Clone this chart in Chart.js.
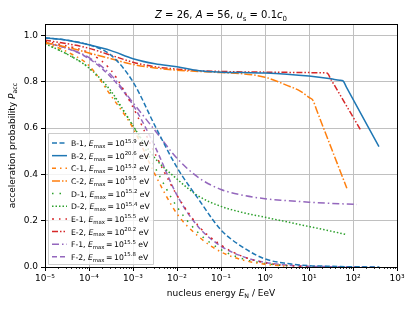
<!DOCTYPE html>
<html>
<head>
<meta charset="utf-8">
<script src="https://cdn.jsdelivr.net/npm/chart.js@4.4.0/dist/chart.umd.min.js"></script>
<style>
  html, body { margin: 0; padding: 0; background: #fff; }
</style>
</head>
<body>
<canvas id="chart" width="415" height="311"></canvas>
<script>
// series names and E_max exponents (eV) as shown in the legend
const seriesNames = ['B-1', 'B-2', 'C-1', 'C-2', 'D-1', 'D-2', 'E-1', 'E-2', 'F-1', 'F-2'];
const emaxExp = ['15.9', '20.6', '15.2', '19.5', '15.2', '15.4', '15.5', '20.2', '15.5', '15.8'];
const seriesColors = ['#1f77b4', '#1f77b4', '#ff7f0e', '#ff7f0e', '#2ca02c', '#2ca02c', '#d62728', '#d62728', '#9467bd', '#9467bd'];

// log10 of nucleus energy in EeV, and acceleration probability
const logE_B1 = [-5, -4.5, -4, -3.5, -3, -2.5, -2, -1.5, -1, -0.5, 0, 0.5, 1, 1.5, 2, 2.6];
const prob_B1 = [0.99, 0.98, 0.96, 0.915, 0.80, 0.61, 0.43, 0.29, 0.16, 0.085, 0.035, 0.015, 0.006, 0.003, 0.001, 0.0];

const logE_B2 = [-5, -4.5, -4, -3.5, -3, -2.5, -2, -1.5, -1, -0.5, 0, 0.5, 1, 1.5, 1.7, 1.77, 1.85, 2.59];
const prob_B2 = [0.99, 0.98, 0.96, 0.935, 0.90, 0.878, 0.865, 0.848, 0.842, 0.84, 0.838, 0.833, 0.825, 0.813, 0.807, 0.805, 0.777, 0.52];

const logE_C1 = [-5, -4.5, -4, -3.5, -3, -2.5, -2, -1.5, -1, -0.5, 0, 0.45];
const prob_C1 = [0.97, 0.93, 0.87, 0.74, 0.60, 0.40, 0.23, 0.13, 0.065, 0.03, 0.012, 0.004];

const logE_C2 = [-5, -4.5, -4, -3.5, -3, -2.5, -2, -1.5, -1, -0.5, 0, 0.5, 0.8, 1.0, 1.09, 1.18, 1.86];
const prob_C2 = [0.97, 0.95, 0.925, 0.90, 0.875, 0.86, 0.85, 0.845, 0.84, 0.835, 0.82, 0.785, 0.76, 0.733, 0.72, 0.675, 0.34];

const logE_D1 = [-5, -4.5, -4, -3.5, -3, -2.5, -2, -1.5, -1, -0.5, 0, 0.5];
const prob_D1 = [0.965, 0.92, 0.86, 0.75, 0.61, 0.43, 0.26, 0.145, 0.075, 0.035, 0.015, 0.005];

const logE_D2 = [-5, -4.5, -4, -3.5, -3, -2.5, -2, -1.5, -1, -0.5, 0, 0.5, 1, 1.5, 1.86];
const prob_D2 = [0.965, 0.92, 0.86, 0.76, 0.61, 0.47, 0.38, 0.305, 0.262, 0.235, 0.215, 0.195, 0.175, 0.155, 0.14];

const logE_E1 = [-5, -4.5, -4, -3.5, -3, -2.5, -2, -1.5, -1, -0.5, 0, 0.5, 1, 1.5];
const prob_E1 = [0.975, 0.955, 0.925, 0.85, 0.69, 0.49, 0.31, 0.175, 0.095, 0.045, 0.018, 0.006, 0.002, 0.0];

const logE_E2 = [-5, -4.5, -4, -3.5, -3, -2.5, -2, -1.5, -1, -0.5, 0, 0.5, 1, 1.35, 1.41, 1.5, 2.18];
const prob_E2 = [0.98, 0.965, 0.945, 0.915, 0.885, 0.865, 0.855, 0.848, 0.845, 0.843, 0.842, 0.841, 0.84, 0.839, 0.838, 0.81, 0.59];

const logE_F1 = [-5, -4.5, -4, -3.5, -3, -2.5, -2, -1.5, -1, -0.5, 0, 0.5, 1, 1.5, 2.09];
const prob_F1 = [0.97, 0.945, 0.905, 0.83, 0.71, 0.59, 0.47, 0.385, 0.335, 0.31, 0.295, 0.287, 0.28, 0.275, 0.27];

const logE_F2 = [-5, -4.5, -4, -3.5, -3, -2.5, -2, -1.5, -1, -0.5, 0, 0.5, 1, 2, 2.5];
const prob_F2 = [0.97, 0.945, 0.90, 0.82, 0.70, 0.52, 0.31, 0.17, 0.09, 0.045, 0.02, 0.008, 0.003, 0.001, 0.0];

// axis ticks
const xTickExps = [-5, -4, -3, -2, -1, 0, 1, 2, 3];
const yTicks = [0.0, 0.2, 0.4, 0.6, 0.8, 1.0];

const allLogE = [logE_B1, logE_B2, logE_C1, logE_C2, logE_D1, logE_D2, logE_E1, logE_E2, logE_F1, logE_F2];
const allProb = [prob_B1, prob_B2, prob_C1, prob_C2, prob_D1, prob_D2, prob_E1, prob_E2, prob_F1, prob_F2];

// line styles (dash patterns) per series
const dashes = [
  [5, 2.5],            // B-1 dashed
  [],                  // B-2 solid
  [4, 4, 1.5, 4],      // C-1 loose dash-dot
  [8, 2, 1.5, 2],      // C-2 dash-dot
  [1.5, 6],            // D-1 loose dots
  [1.5, 2],            // D-2 dots
  [2, 5, 1.5, 5],      // E-1 loose dots/dashes
  [6, 2, 1.5, 2, 1.5, 2], // E-2 dash-dot-dot
  [7, 3, 1.5, 3],      // F-1
  [5, 3]               // F-2 dashed
];

const FONT = '"DejaVu Sans", sans-serif';
const SUP = { '-': '⁻', '0': '⁰', '1': '¹', '2': '²', '3': '³', '4': '⁴', '5': '⁵', '6': '⁶', '7': '⁷', '8': '⁸', '9': '⁹' };

// draw text made of pieces (italic, subscript, superscript)
function drawRich(ctx, parts, x, y, size, align) {
  let total = 0;
  const widths = parts.map(p => {
    const s = size * (p.s || 1);
    ctx.font = (p.it ? 'italic ' : '') + s + 'px ' + FONT;
    const w = ctx.measureText(p.t).width;
    total += w;
    return w;
  });
  let cx = x;
  if (align === 'center') cx = x - total / 2;
  if (align === 'right') cx = x - total;
  parts.forEach((p, i) => {
    const s = size * (p.s || 1);
    ctx.font = (p.it ? 'italic ' : '') + s + 'px ' + FONT;
    ctx.fillText(p.t, cx, y + (p.dy || 0) * size);
    cx += widths[i];
  });
}

const datasets = seriesNames.map((name, i) => ({
  label: name,
  data: allLogE[i].map((e, j) => ({ x: Math.pow(10, e), y: allProb[i][j] })),
  borderColor: seriesColors[i],
  borderDash: dashes[i],
  borderWidth: 1.5,
  pointRadius: 0,
  fill: false,
  cubicInterpolationMode: 'monotone'
}));

const decorPlugin = {
  id: 'decor',
  afterDraw(chart) {
    const ctx = chart.ctx;
    const a = chart.chartArea;
    const xs = chart.scales.x;
    ctx.save();

    // minor ticks on the x axis
    ctx.strokeStyle = '#000';
    ctx.lineWidth = 0.8;
    for (let e = -5; e < 3; e++) {
      for (let m = 2; m <= 9; m++) {
        const px = Math.round(xs.getPixelForValue(m * Math.pow(10, e))) + 0.5;
        ctx.beginPath();
        ctx.moveTo(px, a.bottom);
        ctx.lineTo(px, a.bottom + 2);
        ctx.stroke();
      }
    }

    // frame
    ctx.lineWidth = 1;
    ctx.strokeStyle = '#000';
    ctx.strokeRect(Math.round(a.left) + 0.5, Math.round(a.top) + 0.5, Math.round(a.right - a.left), Math.round(a.bottom - a.top));

    ctx.fillStyle = '#000';
    ctx.textBaseline = 'alphabetic';

    // title
    drawRich(ctx, [
      { t: 'Z', it: 1 }, { t: ' = 26, ' }, { t: 'A', it: 1 }, { t: ' = 56, ' },
      { t: 'u', it: 1 }, { t: 's', s: 0.7, dy: 0.25 }, { t: ' = 0.1' },
      { t: 'c', it: 1 }, { t: '0', s: 0.7, dy: 0.25 }
    ], (a.left + a.right) / 2, 18, 10, 'center');

    // x label
    drawRich(ctx, [
      { t: 'nucleus energy ' }, { t: 'E', it: 1 }, { t: 'N', s: 0.7, dy: 0.25 }, { t: ' / EeV' }
    ], (a.left + a.right) / 2, 296, 9, 'center');

    // y label
    ctx.save();
    ctx.translate(15, (a.top + a.bottom) / 2);
    ctx.rotate(-Math.PI / 2);
    drawRich(ctx, [
      { t: 'acceleration probability ' }, { t: 'P', it: 1 }, { t: 'acc', s: 0.7, dy: 0.25 }
    ], 0, 0, 9, 'center');
    ctx.restore();

    // legend
    const lx = 48, ly = 133, lw = 105, lh = 131;
    ctx.beginPath();
    ctx.rect(lx + 0.5, ly + 0.5, lw, lh);
    ctx.fillStyle = 'rgba(255,255,255,0.8)';
    ctx.fill();
    ctx.strokeStyle = '#cccccc';
    ctx.lineWidth = 1;
    ctx.stroke();

    const rowH = 12.65;
    seriesNames.forEach((name, i) => {
      const cy = ly + 10 + i * rowH;
      ctx.beginPath();
      ctx.setLineDash(dashes[i]);
      ctx.strokeStyle = seriesColors[i];
      ctx.lineWidth = 1.5;
      ctx.moveTo(52, cy);
      ctx.lineTo(67, cy);
      ctx.stroke();
      ctx.setLineDash([]);
      ctx.fillStyle = '#000';
      drawRich(ctx, [
        { t: name + ', ' }, { t: 'E', it: 1 }, { t: 'max', s: 0.7, dy: 0.25 },
        { t: '\u2009=\u200910' }, { t: emaxExp[i], s: 0.7, dy: -0.45 }, { t: ' eV' }
      ], 71, cy + 3, 7.7, 'left');
    });

    ctx.restore();
  }
};

new Chart(document.getElementById('chart'), {
  type: 'line',
  data: { datasets: datasets },
  plugins: [decorPlugin],
  options: {
    responsive: false,
    animation: false,
    layout: { padding: { top: 24, right: 18, left: 0, bottom: 0 } },
    plugins: {
      legend: { display: false },
      tooltip: { enabled: false },
      title: { display: false }
    },
    scales: {
      x: {
        type: 'logarithmic',
        min: 1e-5,
        max: 1e3,
        afterBuildTicks: (scale) => {
          scale.ticks = xTickExps.map(e => ({ value: Math.pow(10, e) }));
        },
        afterFit: (scale) => { scale.height = 44; },
        ticks: {
          autoSkip: false,
          maxRotation: 0,
          padding: 2,
          color: '#000',
          font: { family: FONT, size: 9 },
          callback: (v) => {
            const e = Math.round(Math.log10(v));
            return '10' + String(e).split('').map(c => SUP[c]).join('');
          }
        },
        grid: {
          color: '#c0c0c0',
          lineWidth: 1,
          tickColor: '#000',
          tickLength: 4
        },
        border: { color: '#000', width: 1 }
      },
      y: {
        type: 'linear',
        min: 0,
        max: 1.05,
        afterBuildTicks: (scale) => {
          scale.ticks = yTicks.map(v => ({ value: v }));
        },
        afterFit: (scale) => { scale.width = 45; },
        ticks: {
          padding: 3,
          color: '#000',
          font: { family: FONT, size: 9 },
          callback: (v) => Number(v).toFixed(1)
        },
        grid: {
          color: '#c0c0c0',
          lineWidth: 1,
          tickColor: '#000',
          tickLength: 4
        },
        border: { color: '#000', width: 1 }
      }
    }
  }
});
</script>
</body>
</html>
